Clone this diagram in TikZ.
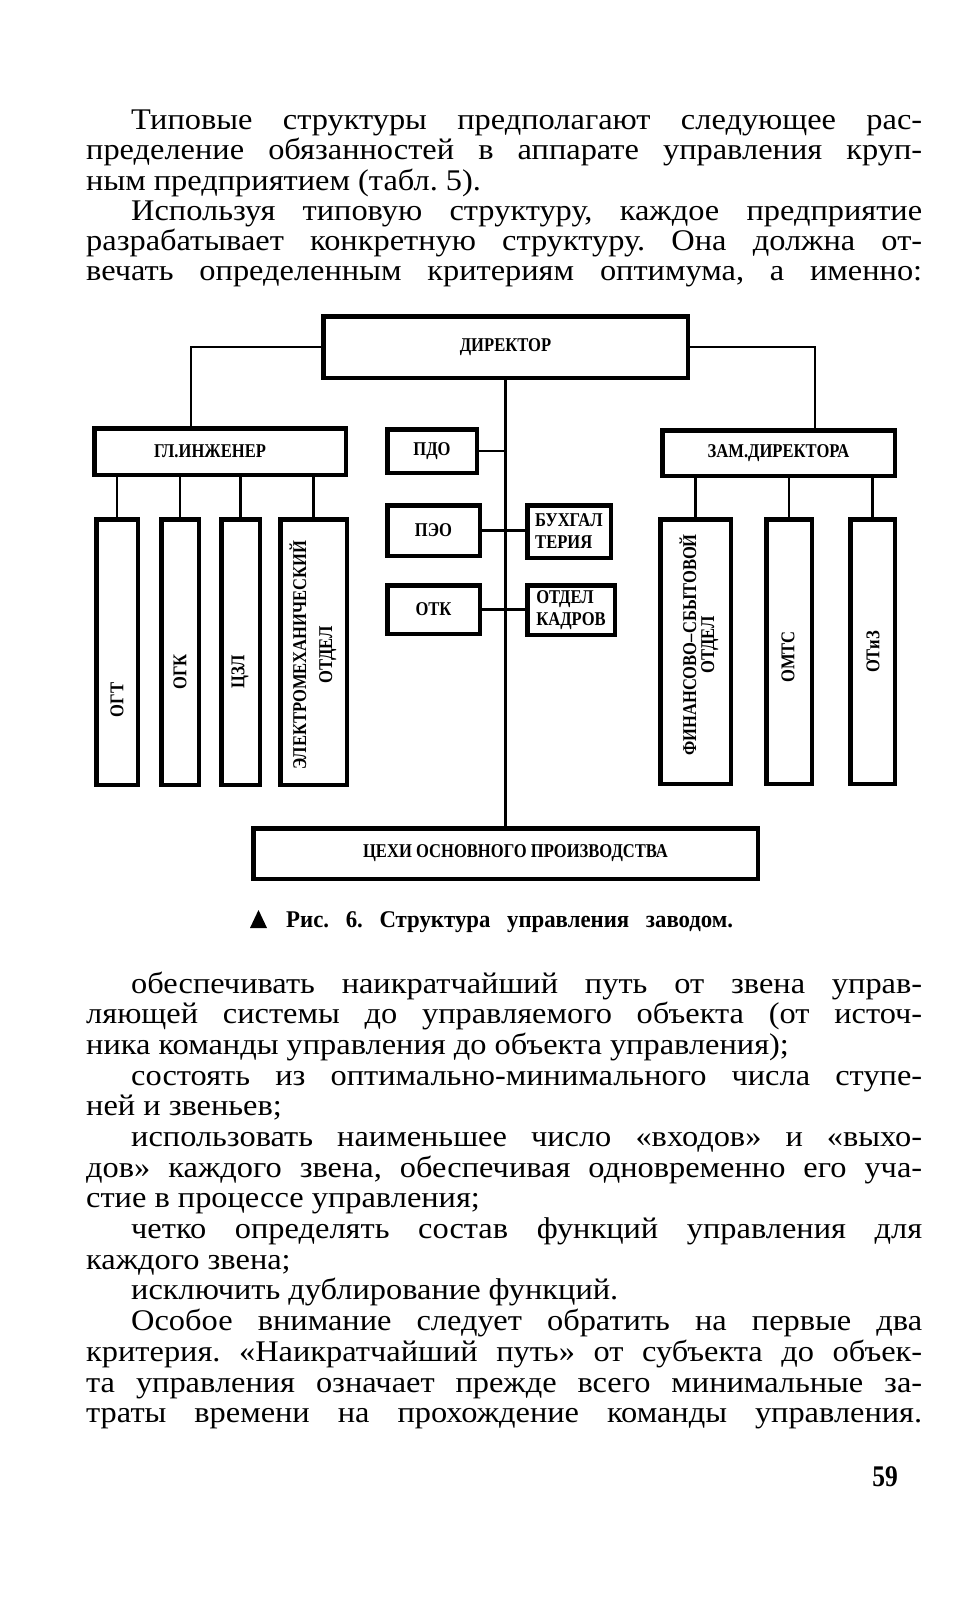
\documentclass[tikz,border=0pt]{standalone}
\usepackage{fontspec}
\setmainfont{Liberation Serif}
\newfontfamily\bodyfont[FakeStretch=1.08]{Liberation Serif}
\newfontfamily\boxfont[FakeStretch=0.85]{Liberation Serif}
\newfontfamily\capfont[FakeStretch=0.95]{Liberation Serif}
\frenchspacing
\tikzset{
  box/.style={draw, line width=4.5pt, rectangle, inner sep=0pt, align=center,
    font=\boxfont\bfseries\fontsize{19.5}{22}\selectfont},
  conn/.style={line width=2.4pt},
  vtext/.style={rotate=90, inner sep=0pt, align=center,
    font=\boxfont\bfseries\fontsize{19.5}{22}\selectfont},
  bodyline/.style={anchor=base west, inner sep=0pt,
    font=\bodyfont\fontsize{30}{32}\selectfont},
}
\newcommand\jline[5]{\node[bodyline] (#1) at (#2,#3) {\makebox[#4pt][s]{#5}};}
\newcommand\nline[4]{\node[bodyline] (#1) at (#2,#3) {#4};}
\begin{document}
\frenchspacing
\begin{tikzpicture}[x=1pt,y=-1pt]
\fill[white] (0,0) rectangle (963,1600);
\useasboundingbox (0,0) rectangle (963,1600);

% upper text
\jline{t1}{131}{130}{791}{Типовые структуры предполагают следующее рас-}
\jline{t2}{86}{160}{836}{пределение обязанностей в аппарате управления круп-}
\nline{t3}{86}{190}{ным предприятием (табл. 5).}
\jline{t4}{131}{220}{791}{Используя типовую структуру, каждое предприятие}
\jline{t5}{86}{250}{836}{разрабатывает конкретную структуру. Она должна от-}
\jline{t6}{86}{280}{836}{вечать определенным критериям оптимума, а именно:}

% boxes
\node[box, minimum width=364.5pt, minimum height=61.5pt] (dir) at (505.5,347) {ДИРЕКТОР};
\node[box, minimum width=251.5pt, minimum height=46.5pt] (gi) at (220,451.5) {ГЛ.ИНЖЕНЕР\hspace*{20pt}};
\node[box, minimum width=89.5pt, minimum height=43.5pt] (pdo) at (432,451) {ПДО};
\node[box, minimum width=92.5pt, minimum height=50.5pt] (peo) at (433.5,530.5) {ПЭО};
\node[box, minimum width=92.5pt, minimum height=48.5pt] (otk) at (433.5,609.5) {ОТК};
\node[box, minimum width=83.5pt, minimum height=52.5pt, align=left] (buh) at (569,531.5) {БУХГАЛ\\ТЕРИЯ};
\node[box, minimum width=87.5pt, minimum height=49.5pt, align=left] (kadr) at (571,610) {ОТДЕЛ\\КАДРОВ};
\node[box, minimum width=232.5pt, minimum height=45.5pt] (zam) at (778.5,453) {ЗАМ.ДИРЕКТОРА};
\node[box, minimum width=41.5pt, minimum height=265.5pt] (ogt) at (117,652) {};
\node[box, minimum width=37.5pt, minimum height=265.5pt] (ogk) at (180,652) {};
\node[box, minimum width=38.5pt, minimum height=265.5pt] (czl) at (240.5,652) {};
\node[box, minimum width=66.5pt, minimum height=265.5pt] (elm) at (313.5,652) {};
\node[box, minimum width=70.5pt, minimum height=264.5pt] (fin) at (695.5,651.5) {};
\node[box, minimum width=45.5pt, minimum height=264.5pt] (omts) at (789,651.5) {};
\node[box, minimum width=44.5pt, minimum height=264.5pt] (otiz) at (872.5,651.5) {};
\node[box, minimum width=504.5pt, minimum height=50.5pt] (ceh) at (505.5,853.5) {\hspace*{20pt}ЦЕХИ ОСНОВНОГО ПРОИЗВОДСТВА};

% vertical labels
\node[vtext] (ogt-t) at (117,700) {ОГТ};
\node[vtext] (ogk-t) at (180,672) {ОГК};
\node[vtext] (czl-t) at (240,672) {ЦЗЛ};
\node[vtext] (elm-t) at (313,655) {ЭЛЕКТРОМЕХАНИЧЕСКИЙ\\[4pt]ОТДЕЛ};
\node[vtext] (fin-t) at (699,645) {ФИНАНСОВО–СБЫТОВОЙ\\[-4pt]ОТДЕЛ};
\node[vtext] (omts-t) at (788,657) {ОМТС};
\node[vtext] (otiz-t) at (873,652) {ОТиЗ};

% connectors
\draw[conn] (dir.south) -- (dir.south |- ceh.north);
\draw[conn] (dir.west) -| ([xshift=-29pt]gi.north);
\draw[conn] (dir.east) -| ([xshift=36.5pt]zam.north);
\draw[conn] (pdo.east) -- (pdo.east -| dir.south);
\draw[conn] (peo.east) -- (peo.east -| buh.west);
\draw[conn] (otk.east) -- (otk.east -| kadr.west);
\foreach \n in {ogt,ogk,czl,elm} \draw[conn] (\n.north |- gi.south) -- (\n.north);
\foreach \n in {fin,omts,otiz} \draw[conn] (\n.north |- zam.south) -- (\n.north);

% caption
\fill (250,928) -- (267,928) -- (258.5,910) -- cycle;
\node[anchor=base west, inner sep=0pt, font=\capfont\bfseries\fontsize{24}{26}\selectfont] (cap) at (286,927) {\makebox[447pt][s]{Рис. 6. Структура управления заводом.}};

% lower text
\jline{b0}{131}{993}{791}{обеспечивать наикратчайший путь от звена управ-}
\jline{b1}{86}{1023.7}{836}{ляющей системы до управляемого объекта (от источ-}
\nline{b2}{86}{1054.4}{ника команды управления до объекта управления);}
\jline{b3}{131}{1085}{791}{состоять из оптимально-минимального числа ступе-}
\nline{b4}{86}{1115.7}{ней и звеньев;}
\jline{b5}{131}{1146.4}{791}{использовать наименьшее число «входов» и «выхо-}
\jline{b6}{86}{1177}{836}{дов» каждого звена, обеспечивая одновременно его уча-}
\nline{b7}{86}{1207.8}{стие в процессе управления;}
\jline{b8}{131}{1238.4}{791}{четко определять состав функций управления для}
\nline{b9}{86}{1269}{каждого звена;}
\nline{b10}{131}{1299.8}{исключить дублирование функций.}
\jline{b11}{131}{1330.5}{791}{Особое внимание следует обратить на первые два}
\jline{b12}{86}{1361}{836}{критерия. «Наикратчайший путь» от субъекта до объек-}
\jline{b13}{86}{1392}{836}{та управления означает прежде всего минимальные за-}
\jline{b14}{86}{1422.5}{836}{траты времени на прохождение команды управления.}

% page number
\node[anchor=base east, inner sep=0pt, font=\boxfont\bfseries\fontsize{30}{32}\selectfont] (pg) at (898,1486) {59};
\end{tikzpicture}
\end{document}
